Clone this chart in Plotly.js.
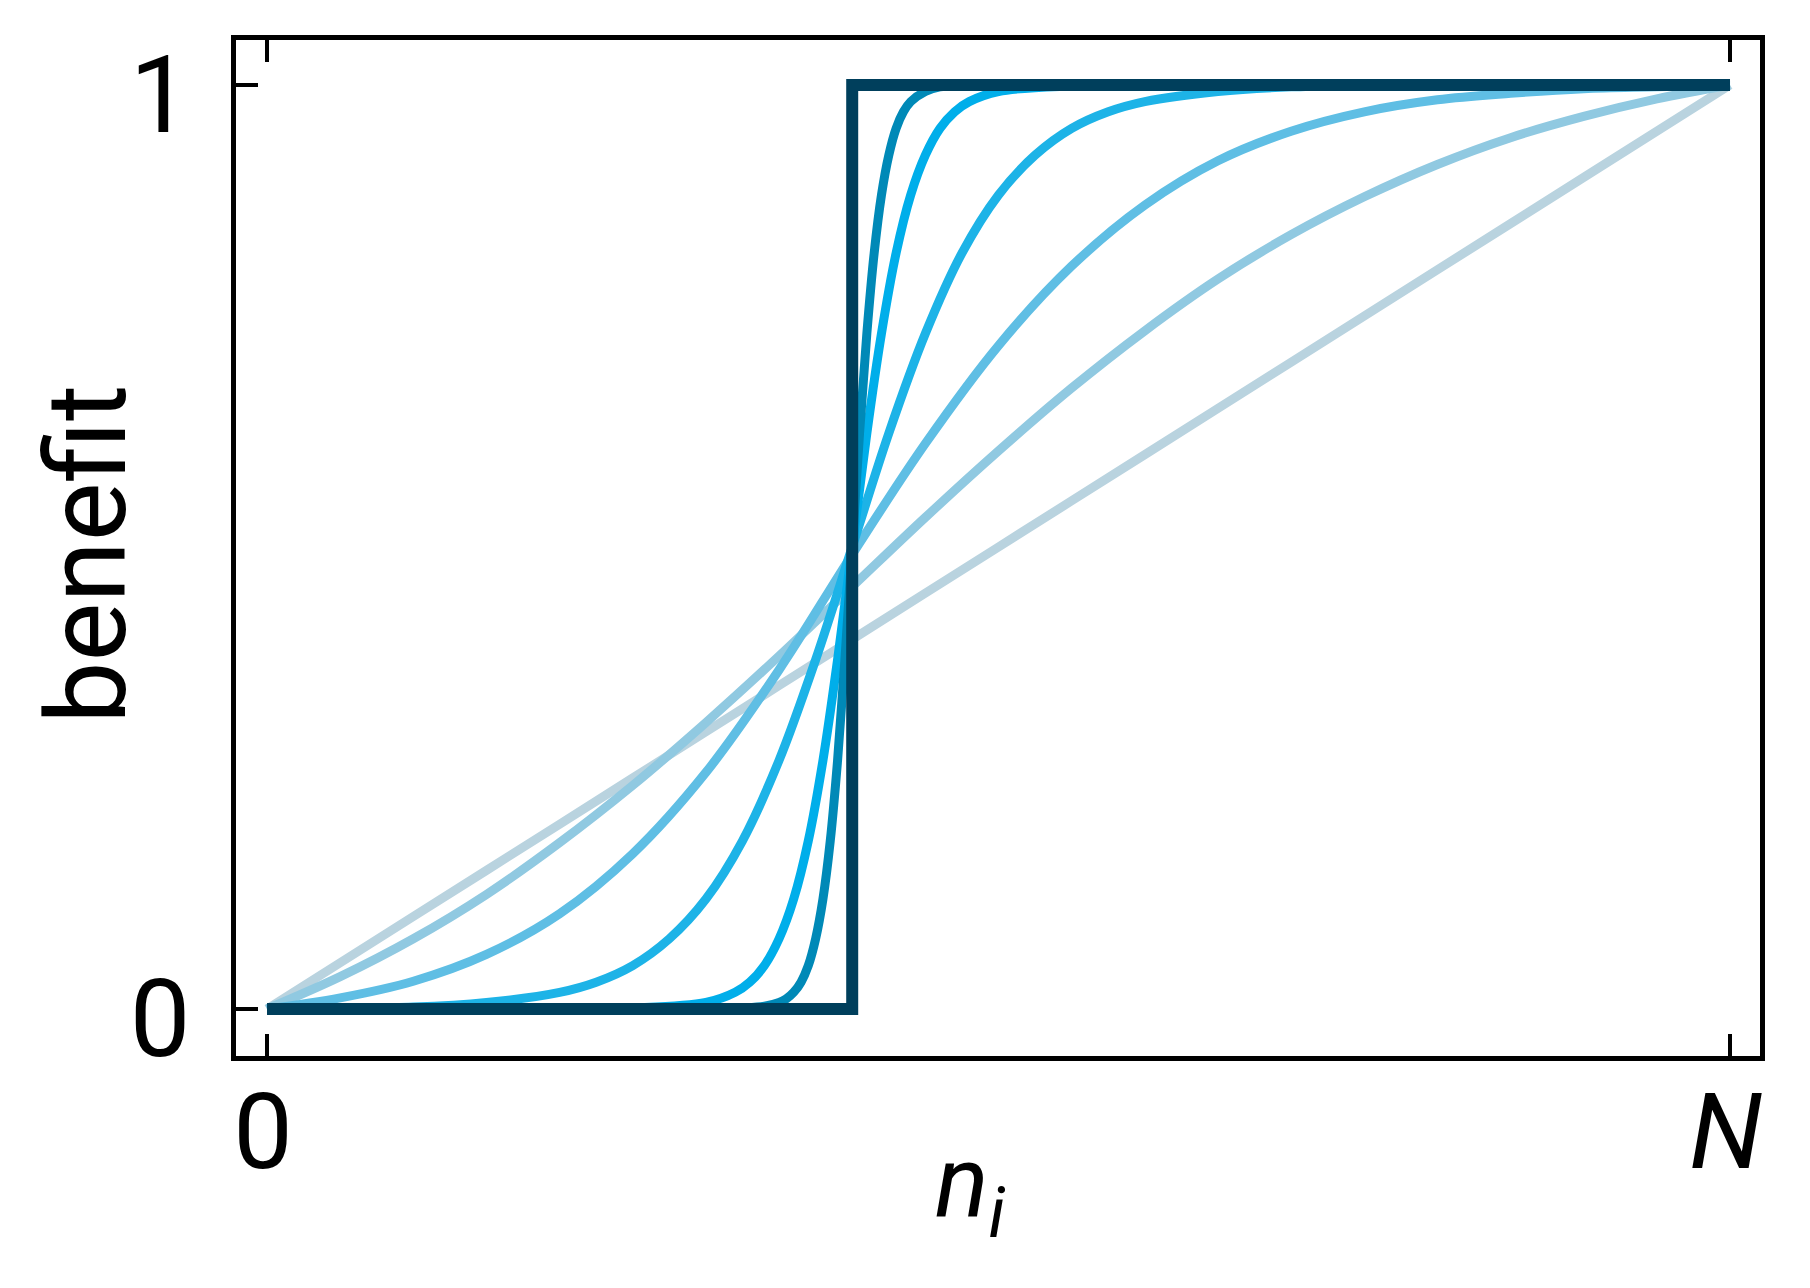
<!DOCTYPE html>
<html>
<head>
<meta charset="utf-8">
<script src="https://cdn.plot.ly/plotly-3.0.1.min.js"></script>
<style>html,body{margin:0;padding:0;background:#fff;}#chart{width:1810px;height:1288px;}</style>
</head>
<body>
<div id="chart"></div>
<script>
// x in units of N (0..1), y = benefit (0..1)
const x1 = [0, 0.1, 0.2, 0.3, 0.4, 0.5, 0.6, 0.7, 0.8, 0.9, 1.0];
const y1 = [0, 0.1, 0.2, 0.3, 0.4, 0.5, 0.6, 0.7, 0.8, 0.9, 1.0];

const x2 = [0, 0.05, 0.1, 0.15, 0.2, 0.25, 0.3, 0.35, 0.4, 0.45, 0.5, 0.55, 0.6, 0.65, 0.7, 0.75, 0.8, 0.85, 0.9, 0.95, 1.0];
const y2 = [0, 0.035, 0.076, 0.124, 0.180, 0.242, 0.310, 0.382, 0.457, 0.532, 0.604, 0.672, 0.734, 0.790, 0.838, 0.879, 0.914, 0.943, 0.966, 0.985, 1.0];

const x3 = [0, 0.05, 0.1, 0.15, 0.2, 0.25, 0.3, 0.35, 0.4, 0.45, 0.5, 0.55, 0.6, 0.65, 0.7, 0.75, 0.8, 0.85, 0.9, 0.95, 1.0];
const y3 = [0, 0.012, 0.030, 0.059, 0.103, 0.168, 0.256, 0.367, 0.492, 0.612, 0.718, 0.804, 0.870, 0.918, 0.950, 0.971, 0.984, 0.991, 0.996, 0.998, 1.0];

const x4 = [0, 0.05, 0.1, 0.15, 0.2, 0.225, 0.25, 0.275, 0.3, 0.325, 0.35, 0.375, 0.4, 0.425, 0.45, 0.475, 0.5, 0.525, 0.55, 0.575, 0.6, 0.65, 0.7, 0.8, 1.0];
const y4 = [0, 0.001, 0.002, 0.007, 0.018, 0.029, 0.047, 0.076, 0.119, 0.182, 0.269, 0.378, 0.5, 0.623, 0.731, 0.818, 0.881, 0.924, 0.953, 0.971, 0.982, 0.993, 0.998, 1.0, 1.0];

const x5 = [0, 0.2, 0.25, 0.3, 0.32, 0.33, 0.34, 0.35, 0.36, 0.37, 0.38, 0.39, 0.4, 0.41, 0.42, 0.43, 0.44, 0.45, 0.46, 0.47, 0.48, 0.5, 0.55, 0.6, 1.0];
const y5 = [0, 0, 0.001, 0.007, 0.018, 0.029, 0.047, 0.076, 0.119, 0.182, 0.269, 0.378, 0.5, 0.623, 0.731, 0.818, 0.881, 0.924, 0.953, 0.971, 0.982, 0.993, 0.999, 1.0, 1.0];

const x6 = [0, 0.3, 0.34, 0.35, 0.355, 0.36, 0.365, 0.37, 0.375, 0.38, 0.385, 0.39, 0.395, 0.4, 0.405, 0.41, 0.415, 0.42, 0.425, 0.43, 0.435, 0.44, 0.45, 0.46, 0.5, 1.0];
const y6 = [0, 0, 0.003, 0.007, 0.011, 0.018, 0.029, 0.047, 0.076, 0.119, 0.182, 0.269, 0.378, 0.5, 0.623, 0.731, 0.818, 0.881, 0.924, 0.953, 0.971, 0.982, 0.993, 0.998, 1.0, 1.0];

const x7 = [0, 0.4, 0.4, 1.0];
const y7 = [0, 0, 1, 1];

const xTickVals = [0, 1];
const xTickText = ['0', '<i>N</i>'];
const yTickVals = [0, 1];
const yTickText = ['0', '1'];
const xTitle = '<i>n</i><sub><i>i</i></sub>';
const yTitle = 'benefit';

const seriesX = [x1, x2, x3, x4, x5, x6, x7];
const seriesY = [y1, y2, y3, y4, y5, y6, y7];
const colors = ['#b9d3df', '#90c9e1', '#5fbee4', '#1db3e7', '#00aeea', '#0089b7', '#003f5c'];
const widths = [9, 9, 9, 9, 9, 9, 12];

const traces = seriesX.map((xs, i) => ({
  x: xs, y: seriesY[i], type: 'scatter', mode: 'lines',
  line: {color: colors[i], width: widths[i], shape: i === 6 ? 'linear' : 'spline', smoothing: 1},
  hoverinfo: 'skip', showlegend: false
}));

const fontFam = 'Roboto, "Open Sans", sans-serif';
const layout = {
  width: 1810, height: 1288,
  margin: {l: 236, r: 50, t: 40, b: 232, pad: 0},
  paper_bgcolor: '#ffffff', plot_bgcolor: '#ffffff',
  font: {family: fontFam, color: '#000000', size: 106},
  showlegend: false,
  xaxis: {
    range: [-0.0212, 1.0205], tickvals: xTickVals, ticktext: xTickText,
    ticks: 'inside', ticklen: 22, tickwidth: 4, tickcolor: '#000',
    showline: true, linewidth: 5, linecolor: '#000', mirror: 'ticks',
    showgrid: false, zeroline: false, fixedrange: true,
    tickfont: {family: fontFam, size: 106, color: '#000'},
    ticklabelstandoff: -20, ticklabelshift: -4
  },
  yaxis: {
    range: [-0.0509, 1.0487], tickvals: yTickVals, ticktext: yTickText,
    ticks: 'inside', ticklen: 22, tickwidth: 4, tickcolor: '#000',
    showline: true, linewidth: 5, linecolor: '#000', mirror: true,
    showgrid: false, zeroline: false, fixedrange: true,
    tickfont: {family: fontFam, size: 108, color: '#000'},
    ticklabelstandoff: 19, ticklabelshift: 9
  },
  annotations: [
    {
      text: xTitle, xref: 'paper', yref: 'paper',
      x: 0.482, y: -0.064, xanchor: 'center', yanchor: 'top', showarrow: false,
      font: {family: fontFam, size: 100, color: '#000'}
    },
    {
      text: yTitle, xref: 'paper', yref: 'paper', textangle: -90,
      x: -0.098, y: 0.494, xanchor: 'center', yanchor: 'middle', showarrow: false,
      font: {family: fontFam, size: 111, color: '#000'}
    }
  ]
};

Plotly.newPlot('chart', traces, layout, {displayModeBar: false, staticPlot: true});
</script>
</body>
</html>
